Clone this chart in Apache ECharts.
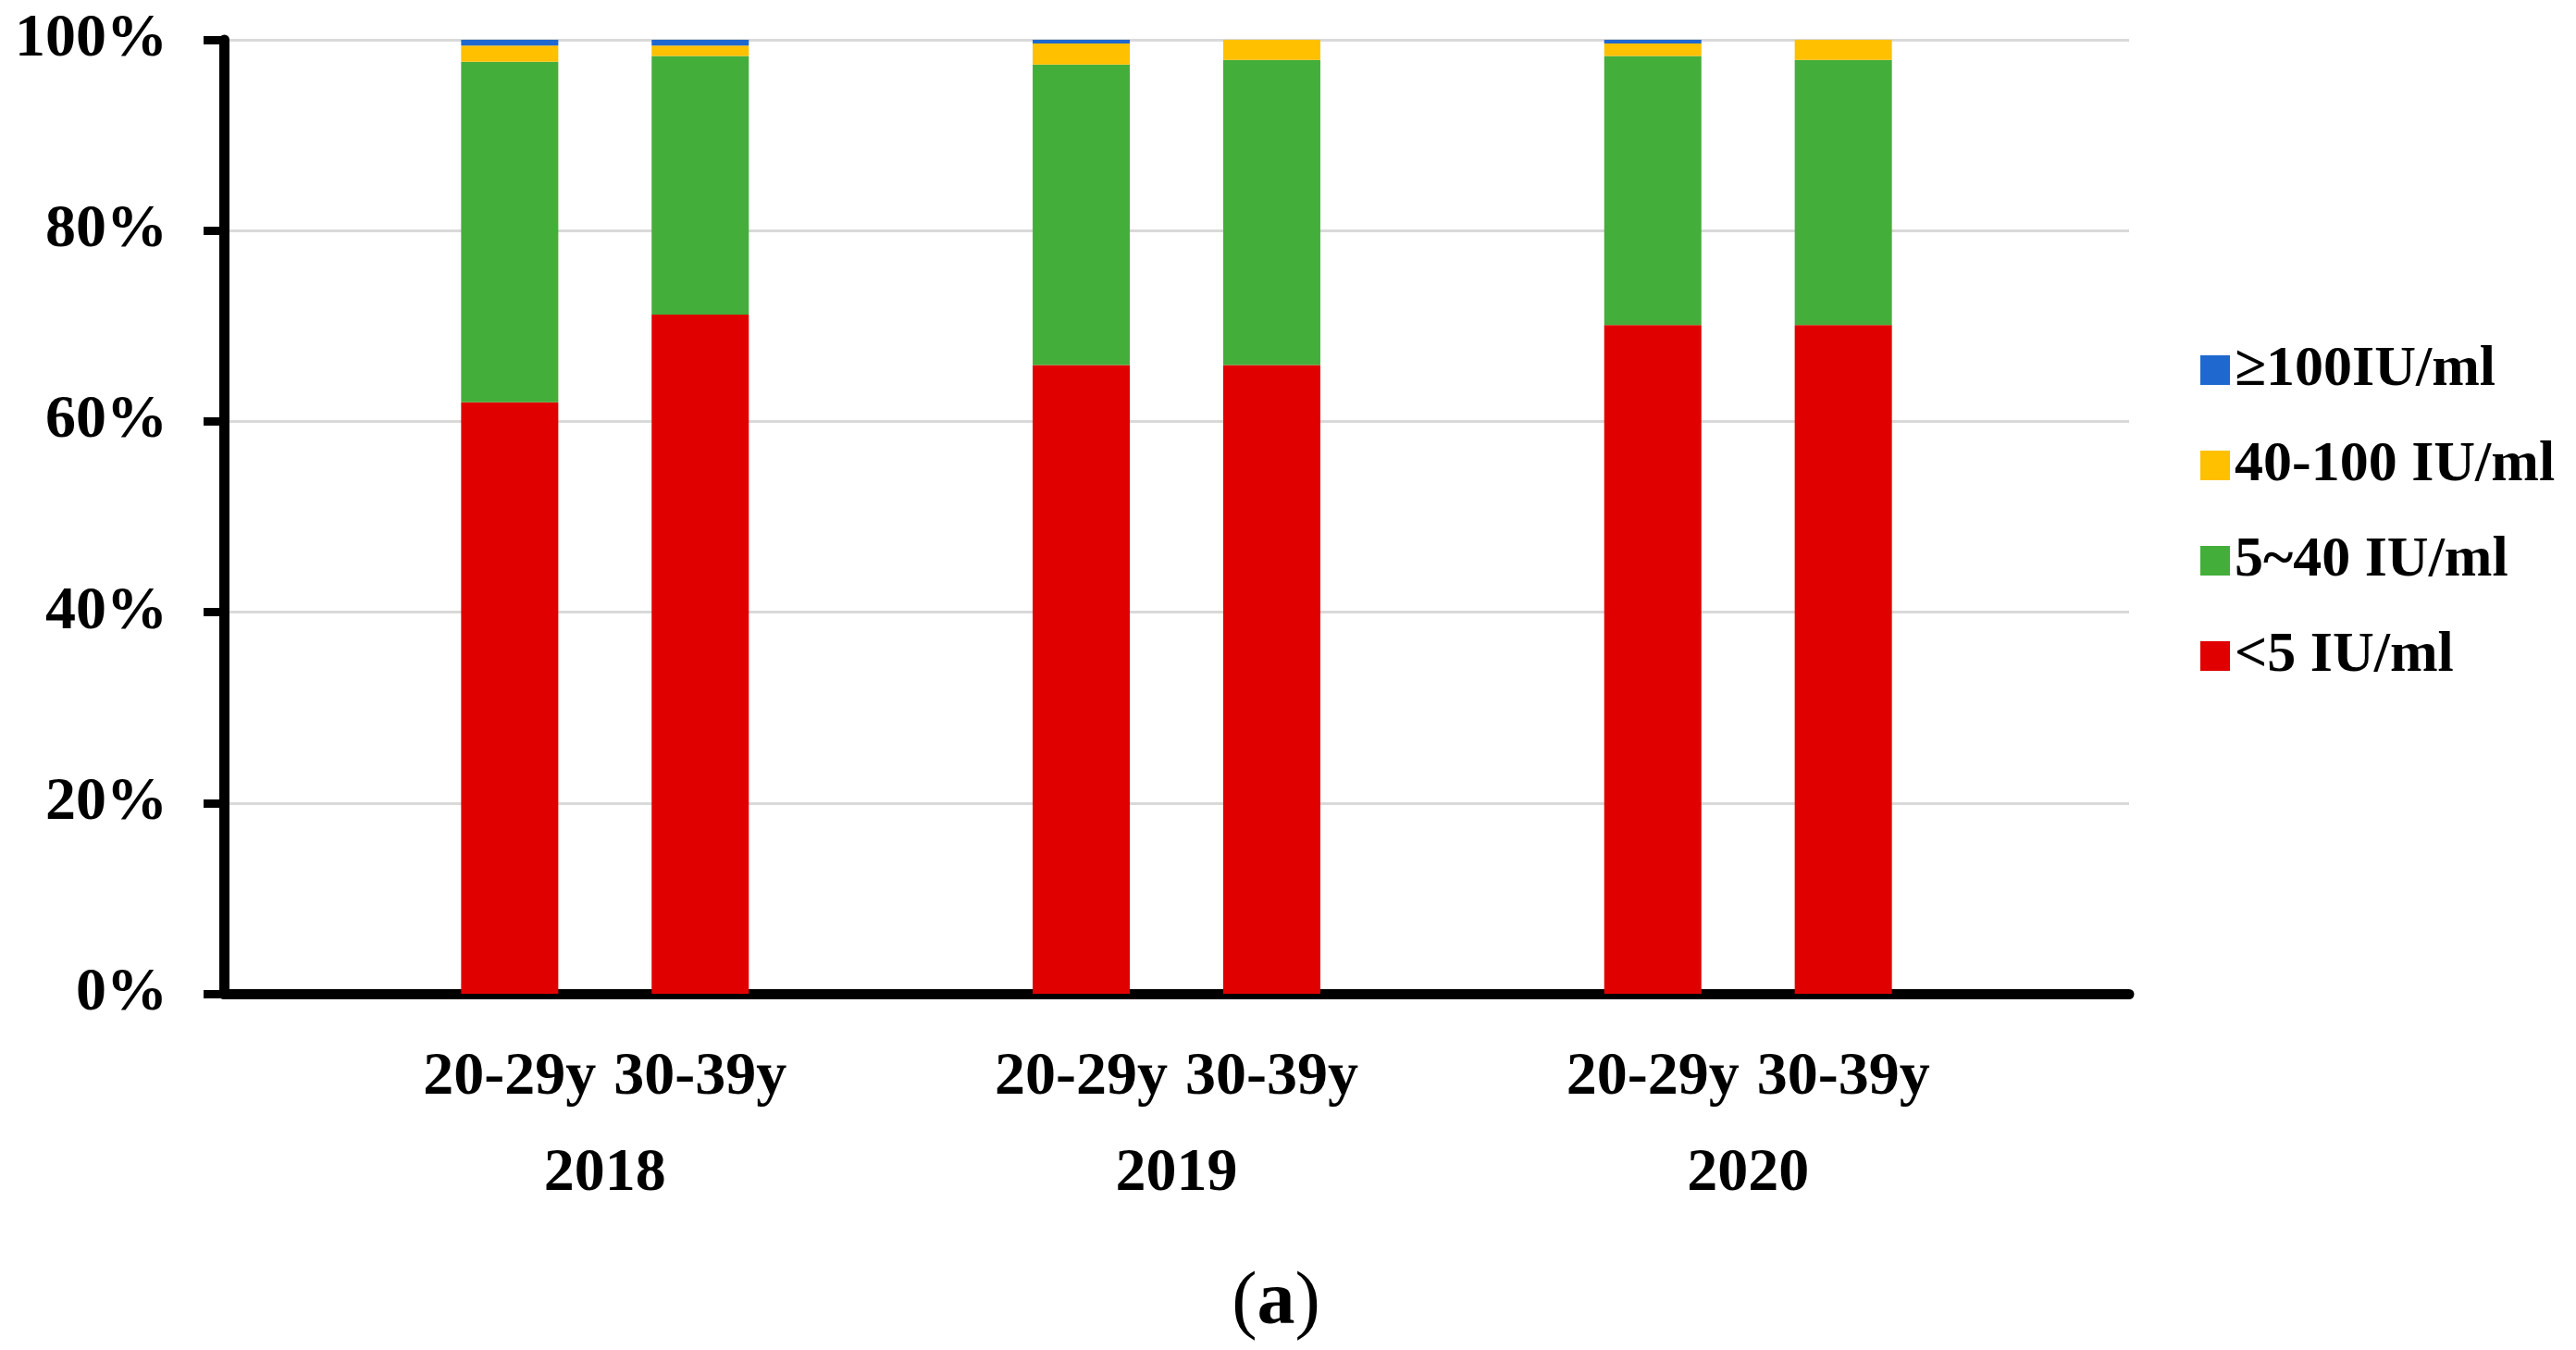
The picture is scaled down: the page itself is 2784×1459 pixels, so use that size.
<!DOCTYPE html>
<html>
<head>
<meta charset="utf-8">
<script src="https://cdn.jsdelivr.net/npm/echarts@6/dist/echarts.min.js"></script>
<style>
html,body{margin:0;padding:0;background:#fff;}
#chart{width:2784px;height:1459px;}
</style>
</head>
<body>
<div id="chart"></div>
<script>
// ---- data ----
var years = ['2018', '2019', '2020'];
var ageGroups = ['20-29y', '30-39y'];
var seriesNames = ['<5 IU/ml', '5~40 IU/ml', '40-100 IU/ml', '≥100IU/ml'];
var legendOrder = ['≥100IU/ml', '40-100 IU/ml', '5~40 IU/ml', '<5 IU/ml'];
var lt5 = [62.0, 71.2, 65.9, 65.9, 70.1, 70.1];
var r5to40 = [35.7, 27.1, 31.5, 32.0, 28.2, 27.8];
var r40to100 = [1.7, 1.1, 2.2, 2.1, 1.3, 2.1];
var ge100 = [0.6, 0.6, 0.4, 0, 0.4, 0];
var yTicks = [0, 20, 40, 60, 80, 100];
var colors = ['#E00000', '#44AE3B', '#FFC000', '#1F68D0'];

// build category slots: blank, age, age, blank, age, age, blank, age, age, blank
var cats = [];
var slotIndex = [];
years.forEach(function (y, yi) {
  cats.push('');
  ageGroups.forEach(function (a) { slotIndex.push(cats.length); cats.push(a); });
});
cats.push('');
// year axis: boundaryGap false, points at category boundaries
var yearCats = [];
for (var i = 0; i <= cats.length; i++) yearCats.push('');
years.forEach(function (y, yi) { yearCats[yi * 3 + 2] = y; });

function slot(vals) {
  var out = cats.map(function () { return null; });
  vals.forEach(function (v, i) { out[slotIndex[i]] = v; });
  return out;
}
var allVals = [lt5, r5to40, r40to100, ge100];

var font = '"Liberation Serif","Times New Roman",serif';
var chart = echarts.init(document.getElementById('chart'), null, {renderer: 'canvas'});
chart.setOption({
  animation: false,
  backgroundColor: '#fff',
  color: colors,
  title: {
    text: '{p|(}{a|a}{p|)}',
    left: 1374,
    textAlign: 'center',
    top: 1362,
    textStyle: {
      rich: {
        p: {fontFamily: font, fontSize: 82, fontWeight: 'normal', color: '#000', lineHeight: 84},
        a: {fontFamily: font, fontSize: 82, fontWeight: 'bold', color: '#000', lineHeight: 84}
      }
    }
  },
  legend: {
    data: legendOrder,
    orient: 'vertical',
    left: 2373,
    top: 364,
    itemWidth: 32,
    itemHeight: 32,
    itemGap: 41,
    itemTextGap: 16,
    icon: 'rect',
    textStyle: {fontFamily: font, fontSize: 62, fontWeight: 'bold', color: '#000', lineHeight: 62}
  },
  grid: {left: 242, right: 483, top: 43, bottom: 1459 - 1074, containLabel: false},
  xAxis: [{
    type: 'category',
    data: cats,
    position: 'bottom',
    axisLine: {show: true, onZero: false, lineStyle: {color: '#000', width: 11}},
    axisTick: {show: false},
    axisLabel: {interval: 0, margin: 58, fontFamily: font, fontSize: 66, fontWeight: 'bold', color: '#000', lineHeight: 66},
    splitLine: {show: false}
  }, {
    type: 'category',
    data: yearCats,
    boundaryGap: false,
    position: 'bottom',
    axisLine: {show: false},
    axisTick: {show: false},
    axisLabel: {interval: 0, margin: 162, fontFamily: font, fontSize: 66, fontWeight: 'bold', color: '#000', lineHeight: 66},
    splitLine: {show: false}
  }],
  yAxis: {
    type: 'value',
    min: yTicks[0],
    max: yTicks[yTicks.length - 1],
    interval: 20,
    axisLine: {show: true, lineStyle: {color: '#000', width: 11}},
    axisTick: {show: true, inside: false, length: 22, lineStyle: {color: '#000', width: 9}},
    axisLabel: {formatter: '{value}%', margin: 61, fontFamily: font, fontSize: 66, fontWeight: 'bold', color: '#000'},
    splitLine: {show: true, lineStyle: {color: '#D9D9D9', width: 3}}
  },
  series: seriesNames.map(function (name, si) {
    return {
      name: name,
      type: 'bar',
      stack: 'total',
      barWidth: '51%',
      xAxisIndex: 0,
      data: slot(allVals[si]),
      itemStyle: {color: colors[si]}
    };
  })
});
</script>
</body>
</html>
